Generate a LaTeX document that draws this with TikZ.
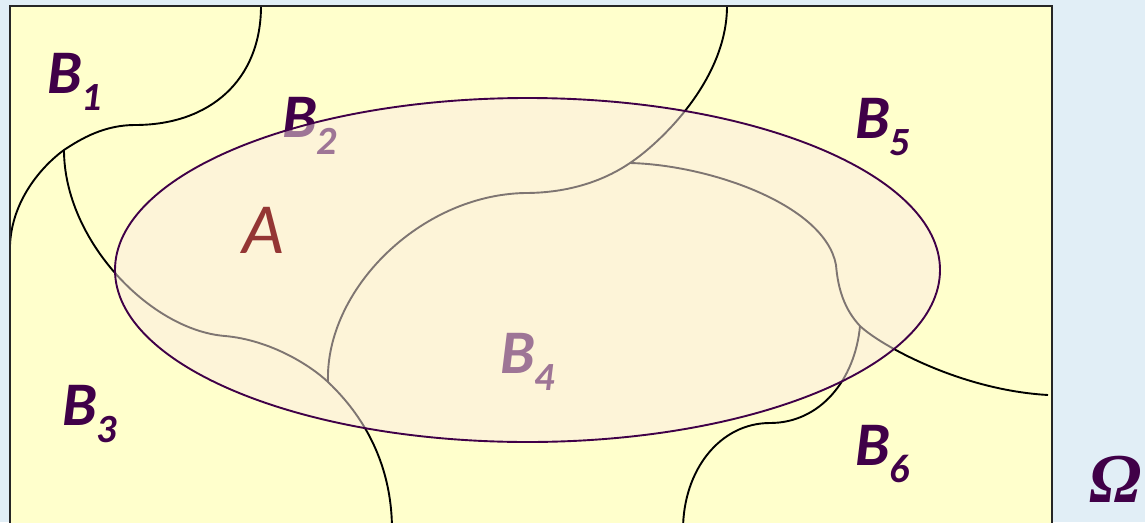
\documentclass[tikz,border=0pt]{standalone}
\usepackage{fontspec}
\newfontfamily\carl{Carlito}
\newfontfamily\libserif{Liberation Serif}
\definecolor{bgblue}{RGB}{225,238,246}
\definecolor{paleyellow}{RGB}{255,255,204}
\definecolor{lblpurple}{RGB}{64,0,72}
\definecolor{ellpink}{RGB}{252,234,228}
\definecolor{ellborder}{RGB}{64,0,72}
\definecolor{abrown}{RGB}{148,54,52}
\tikzset{
  partline/.style={line width=1.9pt, black},
  blabel/.style={anchor=base west, inner sep=0pt, text=lblpurple,
     font=\carl\bfseries\itshape\fontsize{62}{62}\selectfont},
}
\newcommand{\blab}[1]{B\raisebox{-17pt}{\fontsize{40}{40}\selectfont #1}}
\begin{document}
\begin{tikzpicture}[x=1pt,y=-1pt]
\useasboundingbox (0,0) rectangle (1145,522);
\clip (0,0) rectangle (1145,522);
\fill[bgblue] (0,0) rectangle (1145,522);
\fill[paleyellow] (10,6) rectangle (1052,540);
% junction points
\coordinate (J1) at (64,150);
\coordinate (J2) at (328,382);
\coordinate (J3) at (630,163);
\coordinate (J4) at (860,326);
\coordinate (T1) at (261,6);
\coordinate (L1) at (10,245);
\coordinate (D2) at (392,530);
\coordinate (T3) at (727,6);
\coordinate (R4) at (1048,395);
\coordinate (D5) at (683,530);
% partition curves
\draw[partline] (T1) .. controls (261,80) and (210,125) .. (135,125)
   .. controls (105,125) and (82,138) .. (J1)
   .. controls (42,166) and (12,200) .. (L1);
\draw[partline] (J1) .. controls (64,240) and (150,330) .. (225,336)
   .. controls (270,340) and (310,365) .. (J2)
   .. controls (350,403) and (392,450) .. (D2);
\draw[partline] (J2) .. controls (325,290) and (420,195) .. (525,193)
   .. controls (570,193) and (605,180) .. (J3)
   .. controls (660,143) and (727,80) .. (T3);
\draw[partline] (J3) .. controls (710,165) and (825,205) .. (836,265)
   .. controls (838,290) and (845,310) .. (J4)
   .. controls (880,345) and (960,390) .. (R4);
\draw[partline] (J4) .. controls (855,380) and (820,423) .. (770,423)
   .. controls (720,423) and (683,470) .. (D5);
% labels of the parts
\node[blabel] (b1) at (47,93) {\blab{1}};
\node[blabel] (b2) at (282,137) {\blab{2}};
\node[blabel] (b3) at (62,425) {\blab{3}};
\node[blabel] (b4) at (500,373) {\blab{4}};
\node[blabel] (b5) at (855,138) {\blab{5}};
\node[blabel] (b6) at (855,465) {\blab{6}};
% event A
\fill[ellpink, fill opacity=0.5] (527.5,270) ellipse [x radius=412.5, y radius=172];
\draw[ellborder, line width=1.9pt] (527.5,270) ellipse [x radius=412.5, y radius=172];
\draw[line width=2pt, black!85] (10,6) rectangle (1052,540);
\node[anchor=base west, inner sep=0pt, text=abrown,
      font=\carl\itshape\fontsize{72}{72}\selectfont] (a) at (242,253) {A};
\node[anchor=base west, inner sep=0pt, text=lblpurple,
      font=\libserif\bfseries\itshape\fontsize{70}{70}\selectfont] (omega) at (1089,502) {Ω};
\end{tikzpicture}
\end{document}
